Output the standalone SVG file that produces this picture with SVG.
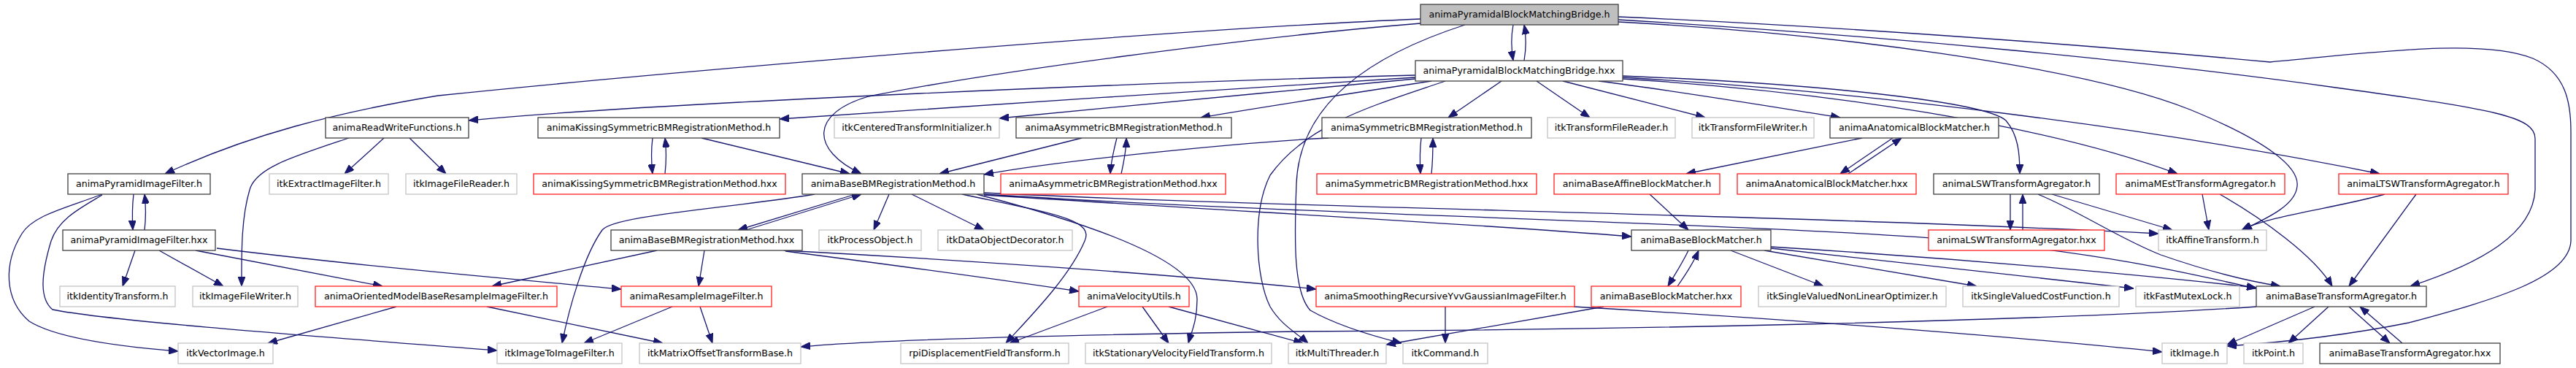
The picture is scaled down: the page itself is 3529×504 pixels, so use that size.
<svg xmlns="http://www.w3.org/2000/svg" width="3529" height="504" viewBox="0 0 3529 504">
<style>
rect{stroke-width:1.3}
.nb{fill:#fff;stroke:#404040}
.ng{fill:#fff;stroke:#c4c4c4}
.nr{fill:#fff;stroke:#ff2020}
.root{fill:#bfbfbf;stroke:#404040}
text{font-family:"DejaVu Sans",sans-serif;font-size:12.65px;text-anchor:middle;fill:#000}
.e path{fill:none;stroke:#191970;stroke-width:1.3;marker-end:url(#a)}
</style>
<defs>
<marker id="a" viewBox="0 0 13 10" refX="13" refY="5" markerWidth="13" markerHeight="10" markerUnits="userSpaceOnUse" orient="auto"><path d="M0,0 L13,5 L0,10 z" fill="#191970" stroke="#191970" stroke-width="1"/></marker>
</defs>
<rect width="3529" height="504" fill="#fff"/>
<g class="e" id="edges">
<path d="M2073,34 C2070,50 2070,65 2073,83"/>
<path d="M2088,83 C2091,65 2091,50 2088,34"/>
<path d="M1946,26 C1600,40 900,100 600,131 C460,154 340,185 226,238"/>
<path d="M1946,32 C1700,52 1350,100 1190,132 C1110,155 1110,205 1180,238"/>
<path d="M2007,34 C1880,75 1780,140 1776,252 C1773,330 1772,400 1795,425 C1830,445 1880,460 1920,470"/>
<path d="M2217,23 C2600,40 2950,70 3110,85 C3250,72 3400,52 3470,80 C3515,100 3522,140 3522,180 L3522,330 C3520,380 3420,410 3300,442 C3200,462 3110,470 3051,474"/>
<path d="M2217,27 C2600,50 2950,85 3200,120 C3420,150 3473,160 3473,190 L3473,260 C3470,320 3400,360 3302,392"/>
<path d="M2217,30 C2500,45 2850,90 3000,150 C3110,195 3150,230 3147,255 C3145,280 3110,297 3072,315"/>
<path d="M1939,103 C1600,112 900,140 642,165"/>
<path d="M1939,106 C1700,120 1300,148 1068,163"/>
<path d="M1939,108 C1750,125 1550,145 1369,162"/>
<path d="M1961,111 C1850,128 1720,148 1645,161"/>
<path d="M2057,111 L1984,161"/>
<path d="M2105,111 L2178,161"/>
<path d="M2141,111 L2336,161"/>
<path d="M2190,111 C2300,125 2420,145 2521,161"/>
<path d="M2223,104 C2500,115 2720,140 2748,165 C2765,185 2767,210 2767,238"/>
<path d="M2223,108 C2500,125 2800,170 2983,238"/>
<path d="M2223,106 C2550,125 2950,175 3260,238"/>
<path d="M1980,111 C1880,145 1790,170 1740,240 C1715,290 1720,380 1740,420 C1755,445 1775,455 1792,470"/>
<path d="M478,189 C400,215 350,230 342,260 C330,300 331,350 331,392"/>
<path d="M526,189 L472,238"/>
<path d="M561,189 L611,238"/>
<path d="M894,189 C892,205 892,220 894,238"/>
<path d="M911,238 C913,220 913,205 911,189"/>
<path d="M961,189 L1164,238"/>
<path d="M1482,189 L1287,238"/>
<path d="M1530,189 C1526,205 1522,220 1521,238"/>
<path d="M1536,238 C1540,220 1543,205 1543,189"/>
<path d="M1947,189 C1945,205 1945,220 1946,238"/>
<path d="M1961,238 C1963,220 1963,205 1963,189"/>
<path d="M1820,189 C1700,195 1450,220 1348,239"/>
<path d="M2551,189 L2310,238"/>
<path d="M2593,189 L2521,238"/>
<path d="M2532,238 L2605,189"/>
<path d="M183,266 C181,283 181,298 182,315"/>
<path d="M198,315 C200,298 200,283 198,266"/>
<path d="M140,266 C90,285 45,295 30,320 C5,360 5,410 40,440 C80,465 180,476 244,481"/>
<path d="M140,267 C110,285 80,300 70,330 C55,380 55,410 72,424 C150,440 450,462 681,480"/>
<path d="M185,343 L168,392"/>
<path d="M218,343 L306,392"/>
<path d="M268,343 L524,392"/>
<path d="M297,340 C500,365 700,382 851,396"/>
<path d="M543,420 L367,470"/>
<path d="M667,420 L908,470"/>
<path d="M921,420 L800,470"/>
<path d="M959,420 L976,470"/>
<path d="M1172,266 L1011,315"/>
<path d="M1022,315 L1180,266"/>
<path d="M1116,266 C1000,285 840,295 825,315 C800,350 780,420 770,470"/>
<path d="M1218,266 L1197,315"/>
<path d="M1249,266 L1348,315"/>
<path d="M1318,266 C1440,292 1500,300 1486,330 C1465,380 1410,435 1378,470"/>
<path d="M1338,266 C1450,295 1640,350 1640,410 C1640,440 1632,455 1628,470"/>
<path d="M1348,264 C1800,286 2400,292 2957,320"/>
<path d="M1348,266 C1800,295 2400,305 2700,330 C2900,350 3000,375 3091,395"/>
<path d="M1348,267 C1700,290 2000,305 2235,324"/>
<path d="M900,343 L674,392"/>
<path d="M965,343 L957,392"/>
<path d="M1076,344 C1200,360 1350,380 1478,399"/>
<path d="M1074,343 C1300,355 1600,375 1803,396"/>
<path d="M2260,266 L2313,315"/>
<path d="M2313,343 C2305,360 2295,375 2285,392"/>
<path d="M2298,392 C2310,375 2320,360 2327,343"/>
<path d="M2371,343 L2498,392"/>
<path d="M2417,343 L2708,392"/>
<path d="M2426,340 L2923,395"/>
<path d="M2426,338 C2700,355 2950,378 3091,394"/>
<path d="M2754,266 L2754,315"/>
<path d="M2771,315 L2771,266"/>
<path d="M2811,266 L2976,315"/>
<path d="M2792,266 C2850,290 2900,325 2960,349 C3020,370 3080,385 3124,392"/>
<path d="M3017,266 L3026,315"/>
<path d="M3041,266 C3100,300 3170,350 3195,392"/>
<path d="M3267,266 C3200,285 3110,295 3071,315"/>
<path d="M3310,266 L3218,392"/>
<path d="M1517,420 L1383,470"/>
<path d="M1565,420 L1601,470"/>
<path d="M1601,420 L1785,470"/>
<path d="M1980,420 L1980,470"/>
<path d="M2156,420 C2500,440 2800,465 2962,482"/>
<path d="M2197,420 L1899,472"/>
<path d="M3171,420 L3051,472"/>
<path d="M3190,420 L3135,470"/>
<path d="M3218,420 L3274,470"/>
<path d="M3291,470 L3233,420"/>
<path d="M3091,420 C2800,440 2200,452 1780,454 C1500,458 1200,465 1097,475"/>
</g>
<g id="R"><rect class="root" x="1946" y="6" width="271" height="28"/><text x="2081.5" y="23.5">animaPyramidalBlockMatchingBridge.h</text></g>
<g id="H"><rect class="nb" x="1939" y="83" width="284" height="28"/><text x="2081" y="100.5">animaPyramidalBlockMatchingBridge.hxx</text></g>
<g id="rw"><rect class="nb" x="446" y="161" width="196" height="28"/><text x="544" y="178.5">animaReadWriteFunctions.h</text></g>
<g id="ksh"><rect class="nb" x="737" y="161" width="331" height="28"/><text x="902.5" y="178.5">animaKissingSymmetricBMRegistrationMethod.h</text></g>
<g id="ctI"><rect class="ng" x="1143" y="161" width="226" height="28"/><text x="1256" y="178.5">itkCenteredTransformInitializer.h</text></g>
<g id="ash"><rect class="nb" x="1392" y="161" width="295" height="28"/><text x="1539.5" y="178.5">animaAsymmetricBMRegistrationMethod.h</text></g>
<g id="sh"><rect class="nb" x="1811" y="161" width="287" height="28"/><text x="1954.5" y="178.5">animaSymmetricBMRegistrationMethod.h</text></g>
<g id="tfr"><rect class="ng" x="2120" y="161" width="175" height="28"/><text x="2207.5" y="178.5">itkTransformFileReader.h</text></g>
<g id="tfw"><rect class="ng" x="2318" y="161" width="167" height="28"/><text x="2401.5" y="178.5">itkTransformFileWriter.h</text></g>
<g id="abm"><rect class="nb" x="2507" y="161" width="231" height="28"/><text x="2622.5" y="178.5">animaAnatomicalBlockMatcher.h</text></g>
<g id="pif"><rect class="nb" x="93" y="238" width="195" height="28"/><text x="190.5" y="255.5">animaPyramidImageFilter.h</text></g>
<g id="eif"><rect class="ng" x="369" y="238" width="163" height="28"/><text x="450.5" y="255.5">itkExtractImageFilter.h</text></g>
<g id="ifr"><rect class="ng" x="556" y="238" width="152" height="28"/><text x="632" y="255.5">itkImageFileReader.h</text></g>
<g id="ksx"><rect class="nr" x="731" y="238" width="345" height="28"/><text x="903.5" y="255.5">animaKissingSymmetricBMRegistrationMethod.hxx</text></g>
<g id="bbm"><rect class="nb" x="1099" y="238" width="249" height="28"/><text x="1223.5" y="255.5">animaBaseBMRegistrationMethod.h</text></g>
<g id="asx"><rect class="nr" x="1371" y="238" width="308" height="28"/><text x="1525" y="255.5">animaAsymmetricBMRegistrationMethod.hxx</text></g>
<g id="ssx"><rect class="nr" x="1804" y="238" width="301" height="28"/><text x="1954.5" y="255.5">animaSymmetricBMRegistrationMethod.hxx</text></g>
<g id="babm"><rect class="nr" x="2129" y="238" width="227" height="28"/><text x="2242.5" y="255.5">animaBaseAffineBlockMatcher.h</text></g>
<g id="abmx"><rect class="nr" x="2380" y="238" width="245" height="28"/><text x="2502.5" y="255.5">animaAnatomicalBlockMatcher.hxx</text></g>
<g id="lsw"><rect class="nb" x="2649" y="238" width="227" height="28"/><text x="2762.5" y="255.5">animaLSWTransformAgregator.h</text></g>
<g id="mest"><rect class="nr" x="2899" y="238" width="231" height="28"/><text x="3014.5" y="255.5">animaMEstTransformAgregator.h</text></g>
<g id="ltsw"><rect class="nr" x="3204" y="238" width="232" height="28"/><text x="3320" y="255.5">animaLTSWTransformAgregator.h</text></g>
<g id="pifx"><rect class="nb" x="86" y="315" width="209" height="28"/><text x="190.5" y="332.5">animaPyramidImageFilter.hxx</text></g>
<g id="bbmx"><rect class="nb" x="837" y="315" width="262" height="28"/><text x="968" y="332.5">animaBaseBMRegistrationMethod.hxx</text></g>
<g id="po"><rect class="ng" x="1122" y="315" width="140" height="28"/><text x="1192" y="332.5">itkProcessObject.h</text></g>
<g id="dod"><rect class="ng" x="1285" y="315" width="184" height="28"/><text x="1377" y="332.5">itkDataObjectDecorator.h</text></g>
<g id="bbk"><rect class="nb" x="2235" y="315" width="191" height="28"/><text x="2330.5" y="332.5">animaBaseBlockMatcher.h</text></g>
<g id="lswx"><rect class="nr" x="2642" y="315" width="241" height="28"/><text x="2762.5" y="332.5">animaLSWTransformAgregator.hxx</text></g>
<g id="aff"><rect class="ng" x="2957" y="315" width="148" height="28"/><text x="3031" y="332.5">itkAffineTransform.h</text></g>
<g id="idt"><rect class="ng" x="82" y="392" width="158" height="28"/><text x="161" y="409.5">itkIdentityTransform.h</text></g>
<g id="ifw"><rect class="ng" x="264" y="392" width="144" height="28"/><text x="336" y="409.5">itkImageFileWriter.h</text></g>
<g id="omb"><rect class="nr" x="432" y="392" width="331" height="28"/><text x="597.5" y="409.5">animaOrientedModelBaseResampleImageFilter.h</text></g>
<g id="rif"><rect class="nr" x="851" y="392" width="206" height="28"/><text x="954" y="409.5">animaResampleImageFilter.h</text></g>
<g id="vel"><rect class="nr" x="1478" y="392" width="151" height="28"/><text x="1553.5" y="409.5">animaVelocityUtils.h</text></g>
<g id="yvv"><rect class="nr" x="1803" y="392" width="354" height="28"/><text x="1980" y="409.5">animaSmoothingRecursiveYvvGaussianImageFilter.h</text></g>
<g id="bbkx"><rect class="nr" x="2180" y="392" width="205" height="28"/><text x="2282.5" y="409.5">animaBaseBlockMatcher.hxx</text></g>
<g id="svno"><rect class="ng" x="2409" y="392" width="257" height="28"/><text x="2537.5" y="409.5">itkSingleValuedNonLinearOptimizer.h</text></g>
<g id="svcf"><rect class="ng" x="2689" y="392" width="214" height="28"/><text x="2796" y="409.5">itkSingleValuedCostFunction.h</text></g>
<g id="fml"><rect class="ng" x="2926" y="392" width="142" height="28"/><text x="2997" y="409.5">itkFastMutexLock.h</text></g>
<g id="bta"><rect class="nb" x="3091" y="392" width="233" height="28"/><text x="3207.5" y="409.5">animaBaseTransformAgregator.h</text></g>
<g id="vi"><rect class="ng" x="244" y="470" width="130" height="28"/><text x="309" y="487.5">itkVectorImage.h</text></g>
<g id="i2i"><rect class="ng" x="681" y="470" width="171" height="28"/><text x="766.5" y="487.5">itkImageToImageFilter.h</text></g>
<g id="mot"><rect class="ng" x="876" y="470" width="221" height="28"/><text x="986.5" y="487.5">itkMatrixOffsetTransformBase.h</text></g>
<g id="rpi"><rect class="ng" x="1234" y="470" width="230" height="28"/><text x="1349" y="487.5">rpiDisplacementFieldTransform.h</text></g>
<g id="svf"><rect class="ng" x="1487" y="470" width="255" height="28"/><text x="1614.5" y="487.5">itkStationaryVelocityFieldTransform.h</text></g>
<g id="mt"><rect class="ng" x="1765" y="470" width="134" height="28"/><text x="1832" y="487.5">itkMultiThreader.h</text></g>
<g id="cmd"><rect class="ng" x="1922" y="470" width="116" height="28"/><text x="1980" y="487.5">itkCommand.h</text></g>
<g id="img"><rect class="ng" x="2962" y="470" width="89" height="28"/><text x="3006.5" y="487.5">itkImage.h</text></g>
<g id="pt"><rect class="ng" x="3074" y="470" width="81" height="28"/><text x="3114.5" y="487.5">itkPoint.h</text></g>
<g id="btax"><rect class="nb" x="3178" y="470" width="247" height="28"/><text x="3301.5" y="487.5">animaBaseTransformAgregator.hxx</text></g>
</svg>
